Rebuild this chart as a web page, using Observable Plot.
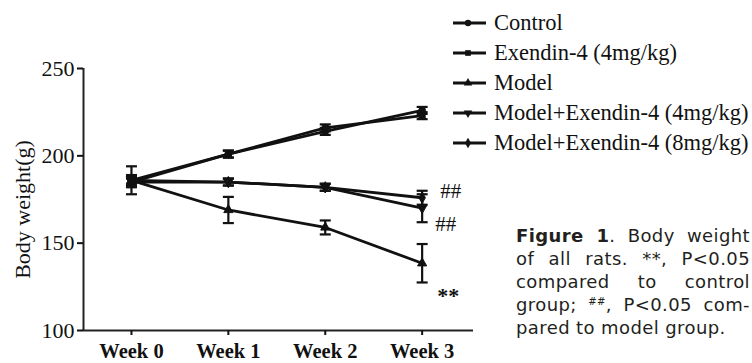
<!DOCTYPE html>
<html>
<head>
<meta charset="utf-8">
<script src="https://cdn.jsdelivr.net/npm/d3@7"></script>
<script src="https://cdn.jsdelivr.net/npm/@observablehq/plot@0.6"></script>
<style>
  body { margin: 0; background: #fff; }
  #wrap { position: relative; width: 752px; height: 363px; overflow: hidden; }
  #chart { position: absolute; left: 0; top: 0; }
  .legend { position: absolute; left: 452px; top: 0; font-family: "Liberation Serif", serif; font-size: 22.5px; color: #111; }
  .legend .row { position: absolute; left: 0; height: 30px; display: flex; align-items: center; white-space: nowrap; }
  .legend svg { width: 40px; height: 20px; margin-right: 2px; }
  .caption { position: absolute; left: 516px; top: 224px; width: 234px; font-family: "DejaVu Sans", sans-serif; font-size: 18px; line-height: 23px; letter-spacing: 0.4px; color: #231f20; }
  .caption div { text-align: justify; text-align-last: justify; white-space: nowrap; }
  .caption div.last { text-align-last: left; }
  .caption sup { font-size: 10px; line-height: 0; vertical-align: 6px; letter-spacing: 0.3px; }
</style>
</head>
<body>
<div id="wrap">
  <div id="chart"></div>
  <div class="legend" id="legend"></div>
  <div class="caption">
    <div><b>Figure 1</b>. Body weight</div>
    <div>of all rats. **, P&lt;0.05</div>
    <div>compared to control</div>
    <div>group; <sup>##</sup>, P&lt;0.05 com-</div>
    <div class="last">pared to model group.</div>
  </div>
</div>
<script>
// Body weight (g) of each group, mean and SD per week
const weeks = [0, 1, 2, 3];
const weekLabels = ["Week 0", "Week 1", "Week 2", "Week 3"];
const seriesNames = [
  "Control",
  "Exendin-4 (4mg/kg)",
  "Model",
  "Model+Exendin-4 (4mg/kg)",
  "Model+Exendin-4 (8mg/kg)"
];
const controlMean = [186, 201, 214, 226];
const controlSd = [2, 2, 2, 2];
const exendinMean = [185, 201, 216, 223];
const exendinSd = [2, 2, 2, 2];
const modelMean = [186, 169, 159, 138.5];
const modelSd = [8, 7.5, 4, 11];
const modelEx4Mean = [185, 185, 182, 170];
const modelEx4Sd = [3, 2, 2, 8];
const modelEx8Mean = [186, 185, 182, 176];
const modelEx8Sd = [3, 2, 2, 4];
const yTicks = [100, 150, 200, 250];
const yLabel = "Body weight(g)";

// significance marks at the last week
const sigSeries = ["Model+Exendin-4 (8mg/kg)", "Model+Exendin-4 (4mg/kg)", "Model"];
const sigText = ["##", "##", "**"];

const means = [controlMean, exendinMean, modelMean, modelEx4Mean, modelEx8Mean];
const sds = [controlSd, exendinSd, modelSd, modelEx4Sd, modelEx8Sd];

const data = seriesNames.flatMap((name, s) =>
  weeks.map((w, i) => ({ series: name, week: w, mean: means[s][i], sd: sds[s][i] }))
);

// inverted triangle, same area convention as d3.symbolTriangle
const triangleDown = {
  draw(ctx, size) {
    const y = -Math.sqrt(size / (Math.sqrt(3) * 3));
    ctx.moveTo(0, -y * 2);
    ctx.lineTo(-Math.sqrt(3) * y, y);
    ctx.lineTo(Math.sqrt(3) * y, y);
    ctx.closePath();
  }
};
// flat horizontal cap for the error bars
const capSymbol = {
  draw(ctx, size) {
    const r = Math.sqrt(size / Math.PI);
    ctx.moveTo(-r, 0);
    ctx.lineTo(r, 0);
  }
};
const symbols = [d3.symbolCircle, d3.symbolSquare, d3.symbolTriangle, triangleDown, d3.symbolDiamond];

const xDomain = [-0.495, 3.53];
const last = weeks[weeks.length - 1];
const lastOf = (name) => data.filter(d => d.series === name && d.week === last);

const ink = "#111";
const chart = Plot.plot({
  width: 752,
  height: 363,
  marginLeft: 83,
  marginRight: 279,
  marginTop: 68,
  marginBottom: 33,
  style: { fontFamily: "Liberation Serif, serif", fontSize: "22px", color: ink, background: "transparent", overflow: "visible" },
  x: { domain: xDomain },
  y: { domain: [yTicks[0], yTicks[yTicks.length - 1]] },
  symbol: { domain: seriesNames, range: symbols },
  marks: [
    Plot.ruleX([xDomain[0]], { y1: yTicks[0], y2: yTicks[yTicks.length - 1], stroke: "#222", strokeWidth: 2 }),
    Plot.ruleY([yTicks[0]], { stroke: "#222", strokeWidth: 2 }),
    Plot.axisY({ ticks: yTicks, tickSize: 6, tickPadding: 3, fontSize: 22, label: null, strokeWidth: 2 }),
    Plot.axisX({ ticks: weeks, tickFormat: i => weekLabels[i], tickSize: 5, tickPadding: 8, fontSize: 20.5, fontWeight: "bold", label: null, strokeWidth: 2 }),
    Plot.text([yLabel], { frameAnchor: "left", text: d => d, rotate: -90, textAnchor: "middle", dx: -61, dy: 10, fontSize: 22, fill: ink }),
    Plot.line(data, { x: "week", y: "mean", z: "series", stroke: ink, strokeWidth: 2.8 }),
    Plot.ruleX(data, { x: "week", y1: d => d.mean - d.sd, y2: d => d.mean + d.sd, stroke: ink, strokeWidth: 2.2 }),
    Plot.dot(data, { x: "week", y: d => d.mean - d.sd, symbol: () => capSymbol, r: 5.5, fill: "none", stroke: ink, strokeWidth: 2.2 }),
    Plot.dot(data, { x: "week", y: d => d.mean + d.sd, symbol: () => capSymbol, r: 5.5, fill: "none", stroke: ink, strokeWidth: 2.2 }),
    Plot.dot(data, { x: "week", y: "mean", symbol: "series", r: 3.4, fill: ink, stroke: ink, strokeWidth: 1 }),
    Plot.text(lastOf(sigSeries[0]), { x: "week", y: "mean", text: () => sigText[0], textAnchor: "start", dx: 18, dy: -6, fontSize: 21, fill: ink }),
    Plot.text(lastOf(sigSeries[1]), { x: "week", y: "mean", text: () => sigText[1], textAnchor: "start", dx: 13, dy: 16, fontSize: 21, fill: ink }),
    Plot.text(lastOf(sigSeries[2]), { x: "week", y: "mean", text: () => sigText[2], textAnchor: "start", dx: 15, dy: 33, fontSize: 22, fontWeight: "bold", fill: ink })
  ]
});
document.getElementById("chart").append(chart);

// legend: a short line with the series marker, then the name
const legend = d3.select("#legend");
seriesNames.forEach((name, i) => {
  const row = legend.append("div").attr("class", "row").style("top", (8 + i * 30) + "px");
  const svg = row.append("svg").attr("viewBox", "0 0 40 20");
  svg.append("line").attr("x1", 1).attr("x2", 34).attr("y1", 10).attr("y2", 10)
    .attr("stroke", ink).attr("stroke-width", 2.8);
  svg.append("path").attr("transform", "translate(16,10)")
    .attr("d", d3.symbol(symbols[i], Math.PI * 3.2 * 3.2)()).attr("fill", ink);
  row.append("span").text(name);
});
</script>
</body>
</html>
